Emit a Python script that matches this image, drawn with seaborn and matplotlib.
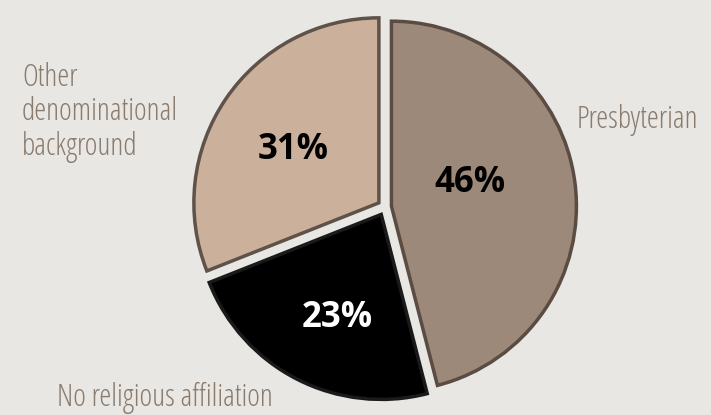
import matplotlib
matplotlib.use('Agg')
import matplotlib.pyplot as plt
import seaborn as sns

# data
categories = ['Presbyterian', 'No religious affiliation', 'Other\ndenominational\nbackground']
shares = [46, 23, 31]
slice_colors = ['#9c8979', '#000000', '#cbb09b']
edge_colors = ['#5a4c42', '#1a1a1a', '#5f5249']
pct_colors = ['#000000', '#ffffff', '#000000']

sns.set_theme(style='white')
plt.rcParams['font.family'] = ['Open Sans', 'DejaVu Sans']

fig = plt.figure(figsize=(7.11, 4.15), dpi=100)
fig.patch.set_facecolor('#e8e7e4')

# pie centre ~ (385, 207) px, radius ~ 185 px
R = 185
lim = 1.2
side = 2 * lim * R
cx, cy = 385, 207
ax = fig.add_axes([(cx - side / 2) / 711, (415 - cy - side / 2) / 415, side / 711, side / 415])
ax.set_facecolor('none')

wedges, _, autotexts = ax.pie(
    shares, colors=slice_colors, startangle=90, counterclock=False,
    explode=[0.035, 0.045, 0.04], autopct='%d%%',
    wedgeprops=dict(linewidth=2.5))
for w, ec in zip(wedges, edge_colors):
    w.set_edgecolor(ec)
ax.set_xlim(-lim, lim)
ax.set_ylim(-lim, lim)
ax.set_aspect('equal')
ax.axis('off')

def to_data(px, py):
    return (px - cx) / R, (cy - py) / R

# percentage labels
pct_pos = [(470, 183), (337, 318), (293, 150)]
for t, (px, py), c in zip(autotexts, pct_pos, pct_colors):
    t.set_position(to_data(px, py))
    t.set_color(c)
    t.set_ha('center')
    t.set_va('center')
    t.set_fontsize(25)
    t.set_fontweight('bold')
    t.set_fontstretch('condensed')

# category labels
label_color = '#8a7b6d'
label_pos = [(577, 120, 'center'), (57, 398, 'center'), (22, 62, 'top')]
for name, (px, py, va) in zip(categories, label_pos):
    x, y = to_data(px, py)
    ax.text(x, y, name, ha='left', va=va, fontsize=22, fontstretch='condensed',
            color=label_color, linespacing=1.1, clip_on=False)

plt.savefig('out.png', dpi=100, facecolor=fig.get_facecolor())
plt.close()
